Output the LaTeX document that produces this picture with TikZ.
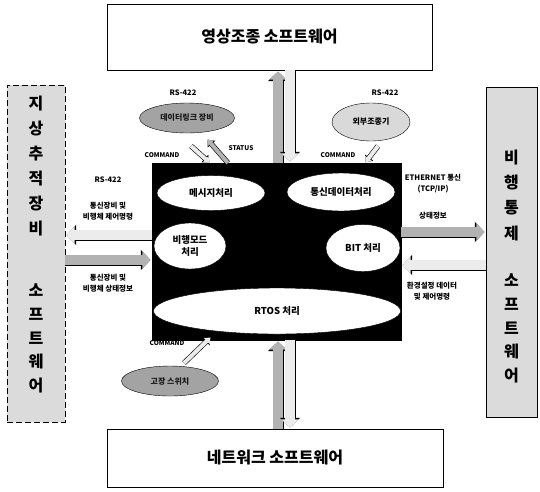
\documentclass[tikz,border=0pt]{standalone}
\usepackage{fontspec}
\setmainfont{Noto Sans CJK KR}
\usetikzlibrary{shapes.geometric,arrows.meta,calc}
\begin{document}
\begin{tikzpicture}[x=1pt,y=-1pt,
  box/.style={draw=black, line width=0.8pt, rectangle, inner sep=0pt},
  title/.style={font=\fontsize{16}{16}\selectfont\bfseries},
  vtxt/.style={font=\fontsize{16}{16}\selectfont\bfseries, inner sep=0pt},
  lbl/.style={font=\fontsize{7.5}{11}\selectfont\bfseries, align=center, inner sep=0pt},
  tag/.style={font=\fontsize{6.5}{8}\selectfont\bfseries, inner sep=0pt},
  ell/.style={ellipse, draw=black, fill=white, inner sep=0pt, font=\fontsize{9.5}{12}\selectfont\bfseries, align=center},
  bigarrow/.style={line width=9.5pt, draw=#1, shorten >=1.2pt, -{Triangle[length=8pt,width=17pt]},
     preaction={draw=black, line width=11pt, -{Triangle[length=9.5pt,width=19.5pt]}}},
  smallarrow/.style={line width=4pt, draw=#1, shorten >=0.8pt, -{Triangle[length=5pt,width=8pt]},
     preaction={draw=black, line width=5.2pt, -{Triangle[length=6pt,width=9.8pt]}}},
]
\useasboundingbox (0,0) rectangle (540,491);

% outer boxes
\node[box, fill=white, minimum width=325pt, minimum height=66pt, title] (top) at (269.5,37) {영상조종 소프트웨어};
\node[box, fill=white, minimum width=336pt, minimum height=58pt, title] (bot) at (275,458) {네트워크 소프트웨어};
\node[box, dashed, dash pattern=on 6pt off 3pt, fill=gray!28, minimum width=58pt, minimum height=337pt] (left) at (36,253.5) {};
\node[box, fill=gray!28, minimum width=51pt, minimum height=330pt] (right) at (511.5,252) {};

% vertical texts
\foreach \ch/\yy [count=\i] in {지/104,상/129,추/154,적/179,장/204,비/229,소/290,프/314,트/338,웨/362,어/386}
  \node[vtxt] (L\i) at (36,\yy) {\ch};
\foreach \ch/\yy [count=\i] in {비/158,행/183,통/208,제/233,소/280,프/304,트/328,웨/352,어/376}
  \node[vtxt] (R\i) at (511.5,\yy) {\ch};

% central processor
\node[box, fill=black, minimum width=249pt, minimum height=177pt] (cpu) at (276.5,251.5) {};
\node[ell, minimum width=108pt, minimum height=35pt] (msg) at (211,193) {메시지처리};
\node[ell, minimum width=108pt, minimum height=38pt] (comm) at (341,192) {통신데이터처리};
\node[ell, minimum width=72pt, minimum height=46pt] (mode) at (190,246) {비행모드\\처리};
\node[ell, minimum width=74pt, minimum height=47pt] (bit) at (363,248) {BIT 처리};
\node[ell, minimum width=247pt, minimum height=46pt] (rtos) at (277,311) {RTOS 처리};

% peripheral ellipses
\node[ellipse, draw=black, fill=gray!72, minimum width=95pt, minimum height=30pt, inner sep=0pt,
      font=\fontsize{8}{9}\selectfont\bfseries, text=black!90] (dev) at (187,118) {데이터링크 장비};
\node[ellipse, draw=black, fill=gray!30, minimum width=78pt, minimum height=38pt, inner sep=0pt,
      font=\fontsize{8}{9}\selectfont\bfseries] (ext) at (371,122) {외부조종기};
\node[ellipse, draw=black, fill=gray!72, minimum width=97pt, minimum height=30pt, inner sep=0pt,
      font=\fontsize{8}{9}\selectfont\bfseries, text=black!90] (sw) at (170,381) {고장 스위치};

% arrow positions
\coordinate (xa) at (278,0);
\coordinate (xb) at (290,0);
\coordinate (ya) at (0,235);
\coordinate (yb) at (0,260);
\coordinate (yc) at (0,232);
\coordinate (yd) at (0,265);

% big arrows
\draw[bigarrow=gray!60] (cpu.north -| xa) -- (top.south -| xa);
\draw[bigarrow=gray!15] (top.south -| xb) -- (cpu.north -| xb);
\draw[bigarrow=gray!60] (bot.north -| xa) -- (cpu.south -| xa);
\draw[bigarrow=gray!15] (cpu.south -| xb) -- (bot.north -| xb);
\draw[bigarrow=gray!15] (cpu.west |- ya) -- (left.east |- ya);
\draw[bigarrow=gray!60] (left.east |- yb) -- (cpu.west |- yb);
\draw[bigarrow=gray!60] (cpu.east |- yc) -- (right.west |- yc);
\draw[bigarrow=gray!15] (right.west |- yd) -- (cpu.east |- yd);

% small arrows
\coordinate (c1s) at (191,146);
\coordinate (c1e) at (210,163);
\coordinate (s1s) at (228,163);
\coordinate (s1e) at (207,139);
\coordinate (c2s) at (378,146);
\coordinate (c2e) at (365,163);
\coordinate (c3s) at (184,363);
\coordinate (c3e) at (211,337);
\draw[smallarrow=gray!15] (c1s) -- (c1e);
\draw[smallarrow=gray!60] (s1s) -- (s1e);
\draw[smallarrow=gray!15] (c2s) -- (c2e);
\draw[smallarrow=gray!15] (c3s) -- (c3e);

% labels
\node[lbl] (rs1) at (183,93) {RS-422};
\node[lbl] (rs2) at (385,93) {RS-422};
\node[lbl] (rs3) at (108,180) {RS-422};
\node[tag] (cmd1) at (162,155) {COMMAND};
\node[tag] (st1) at (241,148) {STATUS};
\node[tag] (cmd2) at (338,155) {COMMAND};
\node[tag] (cmd3) at (167,343) {COMMAND};
\node[lbl] (l1) at (108,211) {통신장비 및\\비행체 제어명령};
\node[lbl] (l2) at (108,283) {통신장비 및\\비행체 상태정보};
\node[lbl] (r1) at (433,184) {ETHERNET 통신\\(TCP/IP)};
\node[lbl] (r2) at (433,216) {상태정보};
\node[lbl] (r3) at (432,291) {환경설정 데이터\\및 제어명령};
\end{tikzpicture}
\end{document}
